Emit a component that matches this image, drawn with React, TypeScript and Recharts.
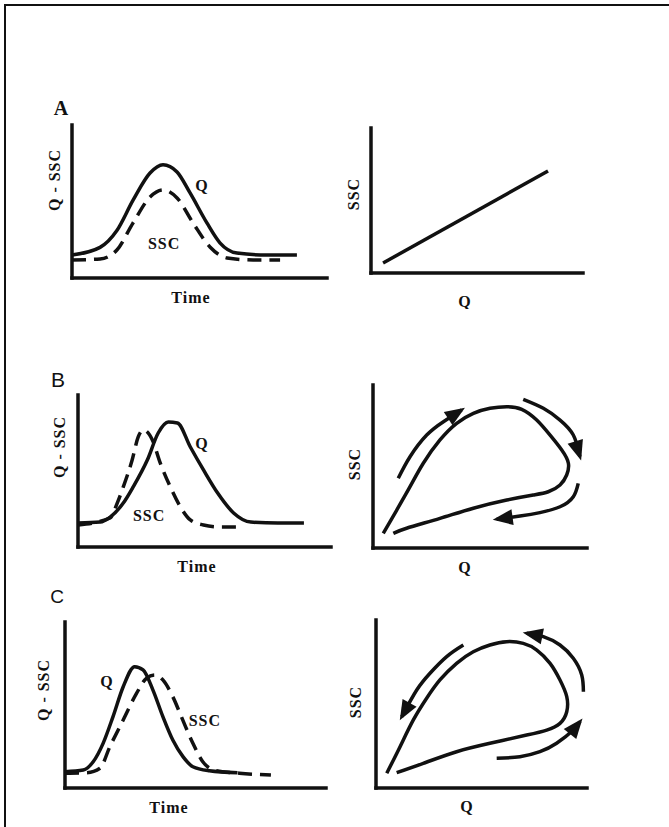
import { LineChart, Line, XAxis, YAxis, ReferenceDot } from 'recharts'

type Pt = [number, number]

const INK = '#111'
const SERIF = '"Liberation Serif", "Times New Roman", serif'
const SANS = '"Liberation Sans", Arial, sans-serif'

// A: Q and SSC peak together -> straight rating line
const aTimeQ: Pt[] = [[0, 15], [11, 20], [17.6, 31], [24, 51], [30.6, 68.6], [35.7, 74], [41.2, 69.3], [46.3, 55.6], [52.9, 36], [58, 23], [64.7, 16.3], [76.5, 15], [88.2, 15]]
const aTimeSsc: Pt[] = [[0, 11.8], [11, 12.4], [17.6, 18.3], [23.9, 35.9], [30.6, 52.9], [35.7, 57.5], [41.2, 52.3], [47.5, 35.9], [54.1, 20.3], [60.8, 13.1], [71, 11.8], [81.6, 11.8]]
const aRating: Pt[] = [[5.7, 6.9], [83.5, 70.3]]

// B: SSC peaks before Q -> clockwise loop
const bTimeQ: Pt[] = [[0, 15.8], [8.7, 16.4], [12.7, 19.7], [17.9, 28.9], [21.8, 39.5], [27.4, 57.2], [31.7, 75], [35.7, 82.2], [39.3, 81.6], [44.4, 65.8], [49.6, 50.7], [55.2, 35.5], [61.5, 22.4], [68.3, 16.4], [79, 15.8], [89.3, 15.8]]
const bTimeSsc: Pt[] = [[0, 14.5], [12.7, 19.1], [15.5, 28.9], [17.9, 39.5], [21.4, 57.2], [23.8, 72.4], [25.8, 77], [29.4, 70.4], [32.5, 55.3], [36.5, 39.5], [40.5, 26.3], [44.4, 17.8], [49.6, 14.5], [56.3, 13.2], [63.1, 13.2]]
const bLoop: Pt[] = [[4.8, 9], [11.1, 23.3], [17.3, 37.6], [23.5, 52], [31.3, 66.3], [39.1, 76.5], [46.9, 82.6], [54.7, 85.7], [62.5, 86.7], [69.5, 85.1], [76.5, 78.5], [82.7, 69.3], [88.2, 60.1], [91.3, 52], [90.5, 44.8], [87.4, 38.7], [81.9, 34.5], [74.9, 32.5], [62.5, 29.4], [46.9, 24.4], [31.3, 18.2], [15.7, 12.1], [9.5, 9]]
const bArrowRise: Pt[] = [[11.8, 42.8], [17.3, 56], [25.1, 69.3], [32.9, 77.5], [41.4, 84.7]]
const bArrowFall: Pt[] = [[70.2, 91.2], [79.6, 85.7], [87.4, 78.5], [93.6, 69.3], [96.7, 56]]
const bArrowBack: Pt[] = [[95.9, 39.7], [93.6, 31.5], [87.4, 25.3], [78, 21.7], [68.7, 19.6], [57.8, 17.6]]

// C: SSC lags Q -> anticlockwise loop
const cTimeQ: Pt[] = [[0, 9.8], [7, 10.8], [10.8, 15.8], [14.6, 26.9], [18.4, 43], [22.3, 61], [26.7, 73.1], [29.9, 71.1], [33.7, 59], [37.5, 43], [41.3, 28.9], [45.2, 18.9], [49, 12.8], [55.3, 10.4], [66.1, 9.2]]
const cTimeSsc: Pt[] = [[0, 8.9], [8.3, 9.2], [13.4, 11.9], [17.2, 24.9], [22.3, 41], [27.4, 57], [31.2, 66.1], [34.4, 68.1], [37.5, 65.1], [41.3, 55], [45.1, 41], [49, 26.9], [52.8, 15.8], [57.9, 10.4], [66.8, 8.9], [78.9, 7.8]]
const cLoop: Pt[] = [[5.1, 8.8], [11.4, 24.6], [17.7, 40.5], [24, 53.4], [30.3, 64.3], [38.2, 74.2], [46.1, 81.1], [54, 85.1], [61.9, 87.1], [69.8, 86.1], [76.2, 82.1], [82.5, 74.2], [87.2, 64.3], [90.4, 54.4], [90.4, 45.4], [87.2, 38.5], [80.9, 34.5], [71.4, 31.5], [54, 26.6], [38.2, 21.6], [22.4, 14.7], [9.8, 9.1]]
const cArrowDown: Pt[] = [[41.4, 85.1], [33.5, 78.2], [25.6, 68.3], [19.3, 58.3], [12.2, 42.4]]
const cArrowUp: Pt[] = [[98.3, 57.3], [97.5, 67.3], [93.5, 77.2], [87.2, 85.1], [79.3, 90.1], [71.4, 92.1]]
const cArrowOut: Pt[] = [[57.2, 17.7], [68.2, 18.6], [77.7, 21.6], [85.6, 26.6], [93.5, 34.5], [96.7, 39.5]]

interface Box { x0: number; y0: number; x1: number; y1: number }

// plot boxes (page px) = where the drawn axes sit
const boxAL: Box = { x0: 72, y0: 125, x1: 327, y1: 278 }
const boxAR: Box = { x0: 371, y0: 128, x1: 583, y1: 273 }
const boxBL: Box = { x0: 78, y0: 395, x1: 331, y1: 547 }
const boxBR: Box = { x0: 373, y0: 385, x1: 587, y1: 548 }
const boxCL: Box = { x0: 65, y0: 622, x1: 326, y1: 788 }
const boxCR: Box = { x0: 376, y0: 620, x1: 587, y1: 788 }

const PAD = { l: 60, r: 12, t: 12, b: 36 }
const axisLine = { stroke: INK, strokeWidth: 3.5, strokeLinecap: 'square' as const }
const titleFont = { fill: INK, fontFamily: SERIF, fontWeight: 700, fontSize: 16, letterSpacing: 1 }

const xy = (pts: Pt[]) => pts.map(([x, y]) => ({ x, y }))

function arrowHead(pts: Pt[], box: Box) {
  const n = pts.length
  const kx = (box.x1 - box.x0) / 100
  const ky = (box.y1 - box.y0) / 100
  const dx = (pts[n - 1][0] - pts[n - 2][0]) * kx
  const dy = -(pts[n - 1][1] - pts[n - 2][1]) * ky
  const len = Math.hypot(dx, dy)
  const ux = dx / len
  const uy = dy / len
  return (props: any) => {
    const { cx, cy, index } = props
    if (index !== n - 1) return <g key={`d${index}`} />
    const tx = cx + ux * 4
    const ty = cy + uy * 4
    const bx = tx - ux * 20
    const by = ty - uy * 20
    const px = -uy * 8
    const py = ux * 8
    return <polygon key={`d${index}`} points={`${tx},${ty} ${bx + px},${by + py} ${bx - px},${by - py}`} fill={INK} />
  }
}

function curve(key: string, pts: Pt[], opts: { dashed?: boolean; loop?: boolean; head?: Box } = {}) {
  return (
    <Line
      key={key}
      data={xy(pts)}
      dataKey="y"
      type={opts.loop ? 'natural' : 'monotone'}
      stroke={INK}
      strokeWidth={3.5}
      strokeDasharray={opts.dashed ? '14 8' : undefined}
      dot={opts.head ? arrowHead(pts, opts.head) : false}
      activeDot={false}
      isAnimationActive={false}
    />
  )
}

function note(key: string, x: number, y: number, text: string) {
  return (
    <ReferenceDot key={key} x={x} y={y} r={0} fill="none" stroke="none"
      label={{ value: text, position: 'center', ...titleFont }} />
  )
}

function Panel({ box, xTitle, yTitle, children }: { box: Box; xTitle: [string, number, number]; yTitle: [string, number, number]; children: any }) {
  const w = box.x1 - box.x0 + PAD.l + PAD.r
  const h = box.y1 - box.y0 + PAD.t + PAD.b
  const xcx = (box.x0 + box.x1) / 2
  const ycy = (box.y0 + box.y1) / 2
  return (
    <div style={{ position: 'absolute', left: box.x0 - PAD.l, top: box.y0 - PAD.t }}>
      <LineChart width={w} height={h} margin={{ top: PAD.t, right: PAD.r, bottom: PAD.b - 1, left: PAD.l - 1 }}>
        <XAxis type="number" dataKey="x" domain={[0, 100]} height={1} tick={false} tickLine={false} axisLine={axisLine}
          label={{ value: xTitle[0], position: 'center', dx: xTitle[1] - xcx, dy: xTitle[2] - box.y1, ...titleFont }} />
        <YAxis type="number" dataKey="y" domain={[0, 100]} width={1} tick={false} tickLine={false} axisLine={axisLine}
          label={{ value: yTitle[0], position: 'center', angle: -90, dx: yTitle[1] - box.x0, dy: yTitle[2] - ycy, ...titleFont }} />
        {children}
      </LineChart>
    </div>
  )
}

function Letter({ text, x, y, font, size, bold }: { text: string; x: number; y: number; font: string; size: number; bold?: boolean }) {
  return (
    <div style={{ position: 'absolute', left: x, top: y, transform: 'translate(-50%, -50%)', fontFamily: font, fontSize: size, fontWeight: bold ? 700 : 400, lineHeight: 1, color: INK }}>
      {text}
    </div>
  )
}

export default function App() {
  return (
    <div style={{ position: 'absolute', left: 0, top: 0, width: 669, height: 827, background: '#fff', overflow: 'hidden' }}>
      <div style={{ position: 'absolute', left: 4, top: 4, width: 670, height: 830, borderTop: `2px solid ${INK}`, borderLeft: `2px solid ${INK}` }} />

      <Letter text="A" x={61} y={108} font={SERIF} size={20} bold />
      <Letter text="B" x={58} y={379} font={SANS} size={21} />
      <Letter text="C" x={57} y={596} font={SANS} size={19} />

      <Panel box={boxAL} xTitle={['Time', 191, 297]} yTitle={['Q - SSC', 55, 180]}>
        {curve('q', aTimeQ)}
        {curve('ssc', aTimeSsc, { dashed: true })}
        {note('nq', 51, 60.8, 'Q')}
        {note('ns', 36.1, 22.9, 'SSC')}
      </Panel>
      <Panel box={boxAR} xTitle={['Q', 465, 301]} yTitle={['SSC', 354, 194]}>
        {curve('r', aRating, { loop: true })}
      </Panel>

      <Panel box={boxBL} xTitle={['Time', 197, 566]} yTitle={['Q - SSC', 60, 447]}>
        {curve('q', bTimeQ)}
        {curve('ssc', bTimeSsc, { dashed: true })}
        {note('nq', 49, 68.4, 'Q')}
        {note('ns', 28.1, 21.1, 'SSC')}
      </Panel>
      <Panel box={boxBR} xTitle={['Q', 465, 567]} yTitle={['SSC', 355, 464]}>
        {curve('loop', bLoop, { loop: true })}
        {curve('a1', bArrowRise, { loop: true, head: boxBR })}
        {curve('a2', bArrowFall, { loop: true, head: boxBR })}
        {curve('a3', bArrowBack, { loop: true, head: boxBR })}
      </Panel>

      <Panel box={boxCL} xTitle={['Time', 169, 807]} yTitle={['Q - SSC', 44, 690]}>
        {curve('q', cTimeQ)}
        {curve('ssc', cTimeSsc, { dashed: true })}
        {note('nq', 16.1, 64.5, 'Q')}
        {note('ns', 53.6, 41, 'SSC')}
      </Panel>
      <Panel box={boxCR} xTitle={['Q', 467, 806]} yTitle={['SSC', 356, 702]}>
        {curve('loop', cLoop, { loop: true })}
        {curve('a1', cArrowDown, { loop: true, head: boxCR })}
        {curve('a2', cArrowUp, { loop: true, head: boxCR })}
        {curve('a3', cArrowOut, { loop: true, head: boxCR })}
      </Panel>
    </div>
  )
}
